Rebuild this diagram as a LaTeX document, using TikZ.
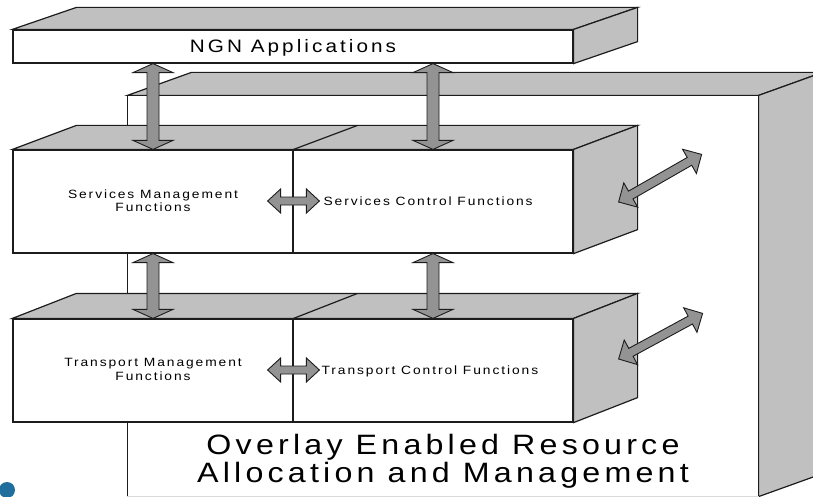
\documentclass[tikz,border=0pt]{standalone}
\usepackage{fontspec}
\setmainfont{Liberation Sans}
\newfontfamily\labelfont[LetterSpace=16,FakeStretch=1.15]{Liberation Sans}
\newfontfamily\titlefont[LetterSpace=17,FakeStretch=1.15]{Liberation Sans}
\newfontfamily\bannerfont[LetterSpace=15,FakeStretch=1.15]{Liberation Sans}
\usetikzlibrary{calc}

\definecolor{facegray}{HTML}{C0C0C0}
\definecolor{arrowgray}{HTML}{939393}
\definecolor{edgecol}{HTML}{1C1C1C}
\definecolor{dotblue}{HTML}{1F6E9E}

\tikzset{
  front/.style={rectangle, draw=edgecol, line width=1.2pt, fill=white, inner sep=0pt},
  face/.style={draw=edgecol, line width=1.2pt, fill=facegray, line join=miter},
  edgeline/.style={draw=edgecol, line width=1.2pt},
  blockarrow/.style={draw=edgecol, line width=0.9pt, fill=arrowgray, line join=miter},
  smalltext/.style={inner sep=0pt, align=center, font=\labelfont\fontsize{12}{13.5}\selectfont},
  ctrltext/.style={inner sep=0pt, anchor=base west, font=\labelfont\fontsize{12}{13.5}\selectfont},
  titletext/.style={inner sep=0pt, anchor=base, font=\titlefont\fontsize{18}{22}\selectfont},
  bannertext/.style={inner sep=0pt, anchor=base, font=\bannerfont\fontsize{28}{28}\selectfont},
}

% double-headed block arrow between two points:
% #1 start, #2 end, #3 shaft half-width, #4 head half-width, #5 head length
\newcommand\fatarrow[5]{%
  \coordinate (fa-s) at ($(#1)!#5!(#2)$);
  \coordinate (fa-e) at ($(#2)!#5!(#1)$);
  \draw[blockarrow] (#1) -- ($(fa-s)!#4!90:(#2)$) -- ($(fa-s)!#3!90:(#2)$)
    -- ($(fa-e)!#3!-90:(#1)$) -- ($(fa-e)!#4!-90:(#1)$) -- (#2)
    -- ($(fa-e)!#4!90:(#1)$) -- ($(fa-e)!#3!90:(#1)$)
    -- ($(fa-s)!#3!-90:(#2)$) -- ($(fa-s)!#4!-90:(#2)$) -- cycle;}

\begin{document}
\begin{tikzpicture}[x=1pt,y=-1pt]
\useasboundingbox (0,0) rectangle (813,497);
\clip (0,0) rectangle (813,497);

% large back slab
\node[front, draw=none, minimum width=630pt, minimum height=400pt] (ovl) at (443,296) {};
\draw[face] (ovl.north west) -- ++(64,-23) -- ($(ovl.north east)+(64,-23)$) -- (ovl.north east) -- cycle;
\draw[face] (ovl.north east) -- ++(64,-23) -- ($(ovl.south east)+(64,-23)$) -- (ovl.south east) -- cycle;
\draw[edgeline] (ovl.south west) -- (ovl.north west) -- (ovl.north east) -- (ovl.south east);
\draw[gray!30, line width=1pt] (ovl.south west) -- (ovl.south east);

% application layer
\node[front, minimum width=560pt, minimum height=33pt] (ngn) at (293,46.5) {};
\draw[face] (ngn.north west) -- ++(64,-22) -- ($(ngn.north east)+(64,-22)$) -- (ngn.north east) -- cycle;
\draw[face] (ngn.north east) -- ++(64,-22) -- ($(ngn.south east)+(64,-22)$) -- (ngn.south east) -- cycle;

% service stratum
\node[front, minimum width=280pt, minimum height=103pt] (sm) at (153,201.5) {};
\node[front, minimum width=280pt, minimum height=103pt] (sc) at (433,201.5) {};
\draw[face] (sm.north west) -- ++(64,-24) -- ($(sc.north east)+(64,-24)$) -- (sc.north east) -- cycle;
\draw[edgeline] (sm.north east) -- ++(64,-24);
\draw[face] (sc.north east) -- ++(64,-24) -- ($(sc.south east)+(64,-24)$) -- (sc.south east) -- cycle;

% transport stratum
\node[front, minimum width=280pt, minimum height=103pt] (tm) at (153,370.5) {};
\node[front, minimum width=280pt, minimum height=103pt] (tc) at (433,370.5) {};
\draw[face] (tm.north west) -- ++(64,-25) -- ($(tc.north east)+(64,-25)$) -- (tc.north east) -- cycle;
\draw[edgeline] (tm.north east) -- ++(64,-25);
\draw[face] (tc.north east) -- ++(64,-25) -- ($(tc.south east)+(64,-25)$) -- (tc.south east) -- cycle;

% vertical links
\coordinate (v1) at (sm.north |- ngn.south);
\coordinate (v2) at (sc.north |- ngn.south);
\fatarrow{v1}{sm.north}{6pt}{20pt}{9pt}
\fatarrow{v2}{sc.north}{6pt}{20pt}{9pt}
\fatarrow{sm.south}{tm.north}{6pt}{20pt}{9pt}
\fatarrow{sc.south}{tc.north}{6pt}{20pt}{9pt}

% horizontal links
\coordinate (h1s) at ($(sm.east)+(-26,-0.5)$);
\coordinate (h1e) at ($(sc.west)+(27,-0.5)$);
\coordinate (h2s) at ($(tm.east)+(-26,-0.5)$);
\coordinate (h2e) at ($(tc.west)+(27,-0.5)$);
\fatarrow{h1s}{h1e}{4pt}{12pt}{13pt}
\fatarrow{h2s}{h2e}{4pt}{12pt}{13pt}

% links towards the slab
\coordinate (d1s) at ($(sc.east)+(45,0.5)$);
\coordinate (d1e) at ($(sc.north east)+(128,5)$);
\coordinate (d2s) at ($(tc.east)+(45,-11.5)$);
\coordinate (d2e) at ($(tc.north east)+(129,-5)$);
\fatarrow{d1s}{d1e}{4.5pt}{14pt}{14pt}
\fatarrow{d2s}{d2e}{4.5pt}{14pt}{14pt}

% labels
\node[titletext] (ngnt) at ($(ngn.center)+(0,6.5)$) {NGN Applications};
\node[smalltext] (smt) at ($(sm.center)+(0,-1)$) {Services Management\\Functions};
\node[ctrltext] (sct) at ($(sc.west)+(31,3.5)$) {Services Control Functions};
\node[smalltext] (tmt) at ($(tm.center)+(0,-1)$) {Transport Management\\Functions};
\node[ctrltext] (tct) at ($(tc.west)+(29,4)$) {Transport Control Functions};
\node[bannertext] (ovl1) at ($(ovl.south)+(0,-42)$) {Overlay Enabled Resource};
\node[bannertext] (ovl2) at ($(ovl.south)+(0,-14)$) {Allocation and Management};

% corner marker
\node[circle, fill=dotblue, minimum size=16pt, inner sep=0pt] (dot) at (7,490) {};
\end{tikzpicture}
\end{document}
